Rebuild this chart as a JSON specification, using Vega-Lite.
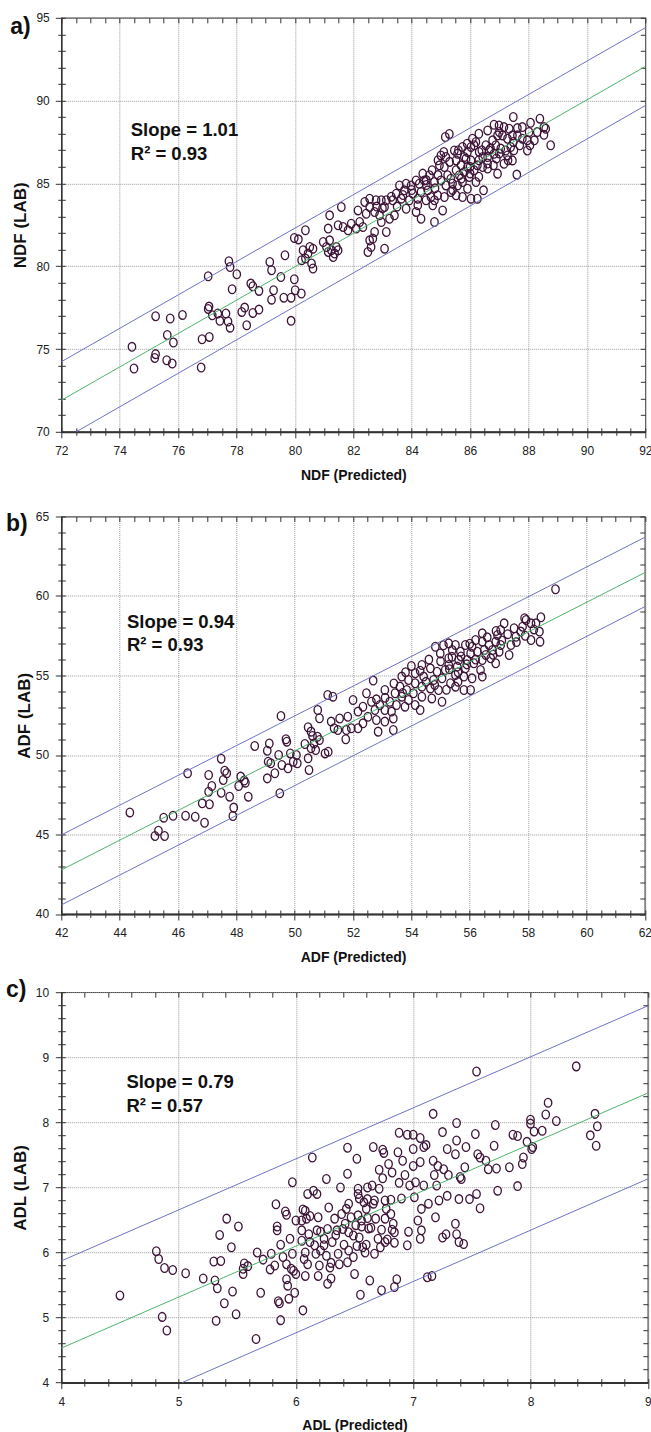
{
  "$schema": "https://vega.github.io/schema/vega-lite/v6.json",
  "background": "white",
  "padding": {"left": 5.3, "top": 10.8, "right": 0, "bottom": 0},
  "columns": 1,
  "spacing": 12.7,
  "config": {
    "view": {"stroke": "#444", "strokeWidth": 1.2},
    "font": "Liberation Sans",
    "axis": {
      "labelFont": "Liberation Sans", "labelFontSize": 12, "labelColor": "#222", "labelFlush": false, "labelOverlap": false,
      "tickColor": "#333", "tickWidth": 1, "domainColor": "#333",
      "gridColor": "#9a9a9a", "gridDash": [1, 1], "gridWidth": 1,
      "titleColor": "#111"
    },
    "axisX": {"titleFont": "Liberation Sans", "titleFontSize": 14, "titleFontWeight": "bold"},
    "axisY": {"titleFont": "Liberation Sans", "titleFontSize": 17, "titleFontWeight": "bold"},
    "title": {"anchor": "start", "frame": "bounds", "font": "Liberation Sans", "fontSize": 23, "fontWeight": "bold", "color": "#111", "baseline": "alphabetic"}
  },
  "datasets": {
    "a_pts": [
      {"p":74.42,"l":75.13},{"p":74.49,"l":73.82},{"p":75.23,"l":76.98},{"p":75.23,"l":74.69},{"p":75.2,"l":74.46},{"p":75.73,"l":76.84},{"p":75.63,"l":75.85},{"p":75.61,"l":74.32},{"p":75.8,"l":74.12},{"p":75.84,"l":75.39},{"p":76.15,"l":77.06},{"p":76.79,"l":73.88},{"p":76.82,"l":75.59},{"p":77.03,"l":79.39},{"p":77.07,"l":75.73},{"p":77.03,"l":77.42},{"p":77.06,"l":77.56},{"p":77.17,"l":77.04},{"p":77.36,"l":77.14},{"p":77.43,"l":76.7},{"p":77.64,"l":77.14},{"p":77.71,"l":76.66},{"p":77.78,"l":76.29},{"p":77.74,"l":80.3},{"p":77.78,"l":79.95},{"p":77.85,"l":78.61},{"p":78.01,"l":79.51},{"p":78.18,"l":77.24},{"p":78.28,"l":77.5},{"p":78.35,"l":76.43},{"p":78.49,"l":78.95},{"p":78.56,"l":78.79},{"p":78.56,"l":77.18},{"p":78.77,"l":78.51},{"p":78.77,"l":77.38},{"p":79.2,"l":77.98},{"p":79.27,"l":78.55},{"p":79.62,"l":78.1},{"p":79.87,"l":78.1},{"p":79.87,"l":76.7},{"p":79.98,"l":79.21},{"p":80.01,"l":78.55},{"p":80.22,"l":78.35},
      {"p":79.14,"l":80.26},{"p":79.2,"l":79.76},{"p":79.66,"l":80.66},{"p":79.52,"l":79.35},{"p":79.98,"l":81.7},{"p":80.12,"l":81.62},{"p":80.36,"l":82.17},{"p":80.28,"l":80.96},{"p":80.36,"l":80.46},{"p":80.23,"l":80.36},{"p":80.51,"l":81.16},{"p":80.62,"l":81.06},{"p":80.57,"l":80.16},{"p":80.62,"l":79.86},{"p":80.45,"l":80.76},{"p":80.97,"l":81.46},{"p":81.08,"l":81.16},{"p":81.19,"l":81.56},{"p":81.25,"l":80.96},{"p":81.14,"l":80.86},{"p":81.36,"l":80.76},{"p":81.31,"l":80.56},{"p":81.48,"l":80.96},{"p":81.42,"l":81.16},{"p":81.19,"l":83.07},{"p":81.59,"l":83.58},{"p":81.65,"l":82.37},{"p":81.82,"l":82.17},{"p":81.93,"l":82.57},{"p":82.22,"l":82.67},{"p":82.1,"l":82.27},{"p":82.33,"l":82.37},{"p":82.16,"l":83.37},{"p":82.44,"l":83.17},{"p":82.56,"l":83.58},{"p":82.73,"l":83.27},{"p":82.9,"l":83.07},{"p":82.56,"l":81.56},{"p":82.67,"l":81.67},{"p":82.5,"l":80.86},{"p":82.61,"l":81.16},{"p":83.07,"l":81.06},{"p":83.13,"l":82.07},{"p":82.73,"l":82.07},{"p":82.96,"l":82.67},{"p":83.24,"l":82.87},{"p":83.41,"l":83.07},{"p":83.07,"l":83.58},{"p":83.81,"l":83.47},{"p":84.15,"l":83.28},{"p":84.32,"l":82.87},{"p":84.78,"l":82.67},{"p":85.06,"l":83.37},{"p":84.72,"l":83.68},{"p":84.21,"l":83.68},{"p":81.48,"l":82.47},{"p":81.14,"l":82.27},
      {"p":87.48,"l":89.01},{"p":86.82,"l":88.54},{"p":86.99,"l":88.5},{"p":87.16,"l":88.4},{"p":87.34,"l":88.3},{"p":87.62,"l":88.34},{"p":87.79,"l":88.4},{"p":88.07,"l":88.66},{"p":88.39,"l":88.91},{"p":88.53,"l":88.4},{"p":88.59,"l":88.3},{"p":88.53,"l":87.94},{"p":88.76,"l":87.3},{"p":88.02,"l":88.1},{"p":87.96,"l":87.6},{"p":88.05,"l":87.3},{"p":87.96,"l":86.99},{"p":87.79,"l":87.7},{"p":87.62,"l":87.9},{"p":87.45,"l":87.9},{"p":87.48,"l":87.5},{"p":87.28,"l":87.7},{"p":87.11,"l":87.9},{"p":86.94,"l":87.9},{"p":86.77,"l":87.6},{"p":86.88,"l":87.3},{"p":87.05,"l":87.1},{"p":87.22,"l":86.99},{"p":87.39,"l":87.2},{"p":87.28,"l":86.69},{"p":87.45,"l":86.39},{"p":87.16,"l":86.19},{"p":86.94,"l":85.59},{"p":87.6,"l":85.53},{"p":86.82,"l":86.79},{"p":86.65,"l":86.99},{"p":86.54,"l":87.3},{"p":86.6,"l":86.59},{"p":86.43,"l":86.59},{"p":86.31,"l":86.9},{"p":86.08,"l":87.7},{"p":86.03,"l":87.2},{"p":86.14,"l":87.3},{"p":85.91,"l":86.9},{"p":85.74,"l":87.2},{"p":85.57,"l":86.79},{"p":85.86,"l":86.49},{"p":86.03,"l":86.39},{"p":86.25,"l":86.09},{"p":86.43,"l":85.99},{"p":86.14,"l":85.79},{"p":85.91,"l":85.99},{"p":85.69,"l":86.09},{"p":85.52,"l":86.39},{"p":85.46,"l":86.99},{"p":85.29,"l":87.99},{"p":85.15,"l":87.8},{"p":85.0,"l":86.69},{"p":85.17,"l":86.59},{"p":84.95,"l":86.09},{"p":85.12,"l":85.99},{"p":85.23,"l":85.49},{"p":85.52,"l":85.79},{"p":85.63,"l":85.49},{"p":85.8,"l":85.69},{"p":85.97,"l":85.39},{"p":85.74,"l":85.08},{"p":85.57,"l":84.88},{"p":85.91,"l":84.68},{"p":86.2,"l":85.08},{"p":86.25,"l":84.08},{"p":86.46,"l":84.58},{"p":86.03,"l":84.08},{"p":85.74,"l":84.18},{"p":85.52,"l":84.28},{"p":85.34,"l":84.48},{"p":85.0,"l":85.18},{"p":84.78,"l":85.08},{"p":84.61,"l":85.49},{"p":84.38,"l":85.59},{"p":84.43,"l":85.18},{"p":84.26,"l":84.98},{"p":84.15,"l":85.18},{"p":83.98,"l":84.88},{"p":83.81,"l":84.98},{"p":83.58,"l":84.88},{"p":83.75,"l":84.58},{"p":84.04,"l":84.38},{"p":84.32,"l":84.48},{"p":84.55,"l":84.58},{"p":84.66,"l":84.18},{"p":84.89,"l":84.28},{"p":85.12,"l":84.18},{"p":84.78,"l":83.98},{"p":84.49,"l":83.98},{"p":84.21,"l":84.08},{"p":83.92,"l":83.98},{"p":83.64,"l":84.08},{"p":83.47,"l":84.38},{"p":83.35,"l":83.98},{"p":83.13,"l":83.98},{"p":82.96,"l":83.98},{"p":82.78,"l":83.98},{"p":82.56,"l":84.08},{"p":82.39,"l":83.88},{"p":85.17,"l":84.88},{"p":85.34,"l":85.28},
      {"p":85.8,"l":86.6},{"p":86.0,"l":86.0},{"p":86.3,"l":86.4},{"p":86.6,"l":86.2},{"p":86.9,"l":86.5},{"p":87.0,"l":86.8},{"p":86.7,"l":87.1},{"p":86.4,"l":87.0},{"p":86.2,"l":87.5},{"p":85.9,"l":87.4},{"p":85.6,"l":87.0},{"p":85.3,"l":86.3},{"p":85.1,"l":86.9},{"p":84.9,"l":86.4},{"p":84.7,"l":85.8},{"p":84.5,"l":85.2},{"p":84.9,"l":85.5},{"p":85.4,"l":85.0},{"p":85.7,"l":85.3},{"p":86.0,"l":85.6},{"p":86.3,"l":85.4},{"p":86.6,"l":85.9},{"p":86.8,"l":86.1},{"p":87.3,"l":86.4},{"p":87.5,"l":87.0},{"p":87.7,"l":87.3},{"p":88.2,"l":87.6},{"p":88.3,"l":88.1},{"p":87.0,"l":88.1},{"p":86.6,"l":88.2},{"p":86.3,"l":88.0},{"p":84.0,"l":84.6},{"p":83.7,"l":84.3},{"p":83.3,"l":84.2},{"p":84.5,"l":84.9},{"p":84.8,"l":84.7},{"p":85.4,"l":84.6},{"p":83.0,"l":83.5},{"p":82.8,"l":83.6},{"p":83.5,"l":83.6}
    ],
    "a_band": [{"band":"upper","x":72,"y":74.23},{"band":"upper","x":92,"y":94.4},{"band":"lower","x":72.51,"y":70},{"band":"lower","x":92,"y":89.7}],
    "a_fit": [{"x":72,"y":71.9},{"x":92,"y":92.06}],
    "a_txt": [{"x":74.38,"y":88.2,"t":"Slope = 1.01"},{"x":74.38,"y":86.75,"t":"R² = 0.93"}],
    "b_pts": [
      {"p":44.35,"l":46.39},{"p":45.21,"l":44.91},{"p":45.33,"l":45.24},{"p":45.54,"l":44.91},{"p":45.51,"l":46.06},{"p":45.83,"l":46.18},{"p":46.26,"l":46.18},{"p":46.33,"l":48.85},{"p":46.59,"l":46.12},{"p":46.83,"l":46.96},{"p":46.91,"l":45.74},{"p":47.05,"l":48.74},{"p":47.05,"l":47.69},{"p":47.08,"l":46.9},{"p":47.16,"l":48.05},{"p":47.48,"l":49.77},{"p":47.48,"l":47.63},{"p":47.55,"l":48.43},{"p":47.6,"l":49.01},{"p":47.67,"l":48.85},{"p":47.77,"l":47.38},{"p":47.88,"l":46.16},{"p":47.91,"l":46.69},{"p":48.08,"l":48.05},{"p":48.15,"l":48.64},{"p":48.27,"l":48.39},{"p":48.31,"l":48.26},{"p":48.41,"l":47.38},{"p":48.63,"l":50.57},{"p":49.06,"l":50.27},{"p":49.06,"l":48.53},{"p":49.13,"l":50.73},{"p":49.09,"l":49.58},{"p":49.18,"l":49.48},{"p":49.32,"l":48.85},{"p":49.45,"l":50.0},{"p":49.49,"l":47.59},{"p":49.53,"l":52.45},{"p":49.56,"l":49.37},{"p":49.7,"l":50.99},{"p":49.73,"l":50.84},{"p":49.77,"l":49.16},{"p":49.85,"l":50.1},{"p":49.95,"l":49.58},{"p":50.06,"l":50.0},{"p":50.09,"l":49.48},{"p":50.35,"l":50.69},{"p":50.46,"l":49.79},{"p":50.49,"l":49.06},{"p":50.56,"l":50.42},{"p":50.66,"l":50.73},{"p":50.72,"l":50.31},{"p":50.85,"l":50.94},{"p":51.04,"l":50.1},{"p":51.15,"l":50.21},{"p":51.75,"l":50.99},{"p":50.46,"l":51.74},{"p":50.78,"l":51.15},{"p":51.35,"l":51.68},{"p":50.61,"l":51.2},
      {"p":54.82,"l":56.81},{"p":54.99,"l":56.39},{"p":55.28,"l":56.08},{"p":54.36,"l":55.66},{"p":54.65,"l":55.45},{"p":54.88,"l":55.24},{"p":55.16,"l":55.35},{"p":54.13,"l":55.14},{"p":54.42,"l":54.93},{"p":54.76,"l":54.72},{"p":55.05,"l":54.82},{"p":53.67,"l":54.93},{"p":53.9,"l":54.72},{"p":54.13,"l":54.51},{"p":54.36,"l":54.3},{"p":54.65,"l":54.19},{"p":54.93,"l":54.09},{"p":53.61,"l":54.3},{"p":53.84,"l":54.09},{"p":54.07,"l":53.88},{"p":54.36,"l":53.67},{"p":54.7,"l":53.56},{"p":55.05,"l":53.35},{"p":53.44,"l":53.88},{"p":53.67,"l":53.67},{"p":53.9,"l":53.46},{"p":54.13,"l":53.14},{"p":54.3,"l":52.83},{"p":53.26,"l":53.35},{"p":53.49,"l":53.14},{"p":53.78,"l":53.04},{"p":52.92,"l":53.14},{"p":53.09,"l":52.83},{"p":52.75,"l":52.83},{"p":53.32,"l":52.73},{"p":52.63,"l":53.35},{"p":52.46,"l":53.88},{"p":52.34,"l":53.04},{"p":52.17,"l":52.73},{"p":52.0,"l":53.46},{"p":52.51,"l":52.41},{"p":52.34,"l":51.99},{"p":52.17,"l":51.68},{"p":52.8,"l":52.2},{"p":53.09,"l":52.1},{"p":53.38,"l":52.3},{"p":51.82,"l":52.41},{"p":51.54,"l":52.3},{"p":51.77,"l":51.57},{"p":51.48,"l":51.57},{"p":51.94,"l":51.68},{"p":51.25,"l":52.1},{"p":51.13,"l":53.77},{"p":51.31,"l":53.67},{"p":50.79,"l":52.83},{"p":50.85,"l":52.31},{"p":50.56,"l":51.47},{"p":52.69,"l":54.68},{"p":53.09,"l":54.09},{"p":53.38,"l":51.57},{"p":52.86,"l":51.47},
      {"p":58.94,"l":60.42},{"p":58.44,"l":58.66},{"p":58.27,"l":58.28},{"p":58.39,"l":57.76},{"p":58.41,"l":57.13},{"p":58.1,"l":58.28},{"p":57.93,"l":58.49},{"p":57.81,"l":58.07},{"p":58.1,"l":57.23},{"p":57.75,"l":57.76},{"p":57.58,"l":57.44},{"p":57.52,"l":57.97},{"p":57.41,"l":56.92},{"p":57.35,"l":56.29},{"p":57.18,"l":58.28},{"p":57.06,"l":57.86},{"p":56.95,"l":57.55},{"p":56.89,"l":57.13},{"p":57.06,"l":56.92},{"p":57.01,"l":56.5},{"p":56.78,"l":56.6},{"p":56.66,"l":56.92},{"p":56.43,"l":57.65},{"p":56.43,"l":57.13},{"p":56.55,"l":56.29},{"p":56.72,"l":56.08},{"p":56.89,"l":55.77},{"p":56.43,"l":55.97},{"p":56.2,"l":57.23},{"p":56.08,"l":56.81},{"p":56.26,"l":56.5},{"p":56.03,"l":56.39},{"p":55.85,"l":56.92},{"p":55.68,"l":56.5},{"p":55.51,"l":56.92},{"p":55.28,"l":57.02},{"p":55.39,"l":56.18},{"p":55.62,"l":55.97},{"p":55.91,"l":55.97},{"p":56.14,"l":55.77},{"p":55.85,"l":55.45},{"p":55.57,"l":55.56},{"p":55.28,"l":55.66},{"p":55.34,"l":54.51},{"p":55.51,"l":55.03},{"p":55.8,"l":54.93},{"p":56.08,"l":54.82},{"p":56.43,"l":54.93},{"p":56.37,"l":55.35},{"p":55.51,"l":54.3},{"p":55.8,"l":54.09},{"p":56.03,"l":54.09},{"p":57.88,"l":58.6},
      {"p":55.0,"l":55.9},{"p":55.3,"l":55.4},{"p":55.6,"l":55.2},{"p":55.9,"l":55.7},{"p":56.2,"l":56.0},{"p":56.5,"l":56.6},{"p":56.8,"l":56.3},{"p":57.1,"l":57.2},{"p":57.3,"l":57.6},{"p":57.6,"l":57.1},{"p":57.9,"l":57.5},{"p":58.2,"l":57.9},{"p":56.6,"l":57.4},{"p":56.9,"l":57.8},{"p":56.0,"l":57.0},{"p":55.7,"l":56.2},{"p":55.4,"l":56.6},{"p":55.1,"l":56.9},{"p":54.6,"l":56.0},{"p":54.3,"l":55.3},{"p":54.0,"l":55.6},{"p":53.8,"l":55.2},{"p":54.5,"l":54.6},{"p":54.8,"l":54.4},{"p":55.2,"l":54.1},{"p":55.6,"l":54.6},{"p":53.4,"l":54.5},{"p":53.1,"l":53.6},{"p":53.7,"l":53.9},{"p":52.8,"l":53.5}
    ],
    "b_band": [{"band":"upper","x":42,"y":44.97},{"band":"upper","x":62,"y":63.69},{"band":"lower","x":42,"y":40.57},{"band":"lower","x":62,"y":59.33}],
    "b_fit": [{"x":42,"y":42.77},{"x":62,"y":61.47}],
    "b_txt": [{"x":44.25,"y":58.38,"t":"Slope = 0.94"},{"x":44.25,"y":56.92,"t":"R² = 0.93"}],
    "c_pts": [
      {"p":4.5,"l":5.34},{"p":4.81,"l":6.02},{"p":4.83,"l":5.9},{"p":4.88,"l":5.76},{"p":4.95,"l":5.73},{"p":4.86,"l":5.01},{"p":4.9,"l":4.8},{"p":5.06,"l":5.68},{"p":5.21,"l":5.6},{"p":5.3,"l":5.86},{"p":5.31,"l":5.57},{"p":5.33,"l":5.45},{"p":5.32,"l":4.95},{"p":5.35,"l":6.27},{"p":5.36,"l":5.87},{"p":5.39,"l":5.22},{"p":5.41,"l":6.52},{"p":5.45,"l":6.08},{"p":5.46,"l":5.4},{"p":5.49,"l":5.05},{"p":5.51,"l":6.4},{"p":5.56,"l":5.83},{"p":5.55,"l":5.75},{"p":5.55,"l":5.67},{"p":5.59,"l":5.79},{"p":5.66,"l":4.67},{"p":5.67,"l":6.0},{"p":5.7,"l":5.38},{"p":5.72,"l":5.89},{"p":5.78,"l":5.74},{"p":5.79,"l":5.98},{"p":5.82,"l":5.8},{"p":5.83,"l":6.74},{"p":5.84,"l":6.34},{"p":5.84,"l":6.4},{"p":5.85,"l":5.25},{"p":5.86,"l":5.22},{"p":5.87,"l":4.96},{"p":5.87,"l":6.12},{"p":5.89,"l":5.93},{"p":5.91,"l":6.63},{"p":5.92,"l":6.58},{"p":5.92,"l":5.82},{"p":5.92,"l":5.59},{"p":5.93,"l":5.49},{"p":5.94,"l":5.29},{"p":5.95,"l":6.21},{"p":5.96,"l":5.75},{"p":5.97,"l":7.08},{"p":5.98,"l":5.72},{"p":5.99,"l":5.38},{"p":6.0,"l":6.49},{"p":6.0,"l":5.67},{"p":6.06,"l":5.11},{"p":6.06,"l":6.66},{"p":6.07,"l":5.9},{"p":6.08,"l":5.64},{"p":6.08,"l":6.64},{"p":6.09,"l":6.52},{"p":6.1,"l":6.9},{"p":6.11,"l":6.28},{"p":6.12,"l":6.16},{"p":6.14,"l":7.46},{"p":6.15,"l":6.95},{"p":6.16,"l":6.11},{"p":6.18,"l":6.9},{"p":6.19,"l":6.54},{"p":6.19,"l":5.64},{"p":6.2,"l":5.8},{"p":6.21,"l":6.32},{"p":6.21,"l":6.03},{"p":6.24,"l":6.21},{"p":6.26,"l":7.13},{"p":6.27,"l":5.52},{"p":6.28,"l":6.69},{"p":6.29,"l":5.77},{"p":6.3,"l":5.84},{"p":6.3,"l":5.6},{"p":6.31,"l":6.16},{"p":6.33,"l":6.52},{"p":6.34,"l":6.27},{"p":6.36,"l":5.98},{"p":6.37,"l":5.82},{"p":6.38,"l":7.0},{"p":6.39,"l":6.59},{"p":6.4,"l":6.36},{"p":6.41,"l":6.12},{"p":6.42,"l":6.44},{"p":6.43,"l":6.67},{"p":6.44,"l":7.61},{"p":6.44,"l":5.85},{"p":6.44,"l":7.21},{"p":6.45,"l":6.03},{"p":6.45,"l":6.31},{"p":6.47,"l":6.54},{"p":6.49,"l":5.93},{"p":6.5,"l":5.67},{"p":6.51,"l":6.42},{"p":6.52,"l":7.44},{"p":6.53,"l":6.98},{"p":6.53,"l":6.9},{"p":6.53,"l":6.57},{"p":6.54,"l":6.23},{"p":6.55,"l":5.35},{"p":6.56,"l":6.49},{"p":6.57,"l":6.08},{"p":6.58,"l":6.77},{"p":6.59,"l":6.0},{"p":6.6,"l":6.67},{"p":6.61,"l":7.0},{"p":6.62,"l":6.37},{"p":6.63,"l":5.57},{"p":6.64,"l":6.38},{"p":6.65,"l":7.03},{"p":6.66,"l":7.62},{"p":6.67,"l":6.8},{"p":6.67,"l":5.98},{"p":6.68,"l":6.52},{"p":6.7,"l":6.21},{"p":6.71,"l":7.27},{"p":6.72,"l":6.08},{"p":6.73,"l":5.42},{"p":6.73,"l":6.35},{"p":6.74,"l":7.58},{"p":6.74,"l":7.14},{"p":6.76,"l":6.8},{"p":6.77,"l":6.67},{"p":6.78,"l":6.2},{"p":6.79,"l":7.36},{"p":6.81,"l":6.81},{"p":6.82,"l":7.23},{"p":6.83,"l":6.44},{"p":6.84,"l":6.31},{"p":6.84,"l":6.15},{"p":6.84,"l":5.47},{"p":6.86,"l":5.59},{"p":6.87,"l":7.54},{"p":6.88,"l":7.07},{"p":6.9,"l":6.83},{"p":6.91,"l":7.41},{"p":6.93,"l":7.19},{"p":6.95,"l":6.11},{"p":6.96,"l":6.32},{"p":6.97,"l":7.03},{"p":7.0,"l":7.33},{"p":7.0,"l":7.59},{"p":7.01,"l":6.85},{"p":7.02,"l":7.08},{"p":7.04,"l":6.49},{"p":7.06,"l":7.39},{"p":7.06,"l":6.21},{"p":7.07,"l":6.67},{"p":7.07,"l":6.34},{"p":7.09,"l":7.03},{"p":7.09,"l":7.62},{"p":7.11,"l":7.65},{"p":7.12,"l":5.62},{"p":7.13,"l":6.75},{"p":7.16,"l":5.64},{"p":7.17,"l":7.41},{"p":7.18,"l":7.19},{"p":7.19,"l":6.54},{"p":7.2,"l":7.03},{"p":7.21,"l":7.33},{"p":7.22,"l":6.8},{"p":7.25,"l":6.23},{"p":7.26,"l":7.28},{"p":7.28,"l":6.28},{"p":7.29,"l":7.59},{"p":7.29,"l":6.87},{"p":7.3,"l":7.19},{"p":7.36,"l":7.51},{"p":7.36,"l":6.44},{"p":7.37,"l":6.28},{"p":7.39,"l":6.16},{"p":7.39,"l":6.82},{"p":7.4,"l":7.16},{"p":7.41,"l":7.13},{"p":7.43,"l":6.13},{"p":7.44,"l":7.31},{"p":7.45,"l":7.62},{"p":7.48,"l":6.82},{"p":7.55,"l":7.51},{"p":7.54,"l":6.9},{"p":7.57,"l":7.46},{"p":7.57,"l":6.68},{"p":7.62,"l":7.41},{"p":7.64,"l":7.28},{"p":7.69,"l":7.64},{"p":7.71,"l":7.29},{"p":7.72,"l":6.95},{"p":7.82,"l":7.31},{"p":7.89,"l":7.02},{"p":7.93,"l":7.36},{"p":7.94,"l":7.46},{"p":8.01,"l":7.59},{"p":8.02,"l":7.62},{"p":8.56,"l":7.64},
      {"p":7.54,"l":8.78},{"p":8.39,"l":8.86},{"p":7.17,"l":8.13},{"p":7.37,"l":7.99},{"p":7.7,"l":7.96},{"p":8.0,"l":8.04},{"p":8.0,"l":7.98},{"p":8.15,"l":8.3},{"p":8.13,"l":8.12},{"p":8.22,"l":8.02},{"p":8.55,"l":8.13},{"p":8.57,"l":7.94},{"p":8.51,"l":7.8},{"p":6.88,"l":7.84},{"p":6.95,"l":7.81},{"p":7.0,"l":7.81},{"p":7.25,"l":7.85},{"p":7.53,"l":7.82},{"p":7.85,"l":7.81},{"p":7.89,"l":7.79},{"p":8.03,"l":7.86},{"p":8.1,"l":7.87},{"p":7.06,"l":7.76},
      {"p":7.37,"l":7.72},{"p":6.75,"l":7.53},{"p":7.97,"l":7.7},
      {"p":6.71,"l":6.98},{"p":6.54,"l":6.83},{"p":6.61,"l":6.82},{"p":6.66,"l":6.75},{"p":6.45,"l":6.75},{"p":6.61,"l":6.53},{"p":6.76,"l":6.52},{"p":6.81,"l":6.59},{"p":6.12,"l":6.56},{"p":6.05,"l":6.49},{"p":6.56,"l":6.4},{"p":6.82,"l":6.35},{"p":6.05,"l":6.34},{"p":6.18,"l":6.34},{"p":6.27,"l":6.36},{"p":6.35,"l":6.34},{"p":6.49,"l":6.26},{"p":6.76,"l":6.16},{"p":6.05,"l":6.18},{"p":6.24,"l":6.11},{"p":6.52,"l":6.1},{"p":6.6,"l":6.12},{"p":5.97,"l":5.98},{"p":6.08,"l":6.0},{"p":6.17,"l":5.98},{"p":6.26,"l":5.95},{"p":6.1,"l":5.82}
    ],
    "c_band": [{"band":"upper","x":4,"y":5.87},{"band":"upper","x":9,"y":9.79},{"band":"lower","x":5.03,"y":4},{"band":"lower","x":9,"y":7.13}],
    "c_fit": [{"x":4,"y":4.53},{"x":9,"y":8.45}],
    "c_txt": [{"x":4.555,"y":8.617,"t":"Slope = 0.79"},{"x":4.555,"y":8.257,"t":"R² = 0.57"}]
  },
  "concat": [
    {
      "width": 584, "height": 414,
      "title": {"text": "a)", "dx": -1.6, "offset": -27.6},
      "layer": [
        {
          "data": {"name": "a_pts"},
          "mark": {"type": "point", "shape": "M-0.85,0A0.85,1,0,1,1,0.85,0A0.85,1,0,1,1,-0.85,0Z", "size": 76, "filled": false, "color": "#3e1438", "strokeWidth": 1.3, "opacity": 1},
          "encoding": {
            "x": {"field": "p", "type": "quantitative", "scale": {"domain": [72, 92], "nice": false, "zero": false},
                  "axis": {"orient": "bottom", "values": [72,72.5,73,73.5,74,74.5,75,75.5,76,76.5,77,77.5,78,78.5,79,79.5,80,80.5,81,81.5,82,82.5,83,83.5,84,84.5,85,85.5,86,86.5,87,87.5,88,88.5,89,89.5,90,90.5,91,91.5,92],
                           "labelExpr": "datum.value % 2 === 0 ? datum.value + '' : ''",
                           "gridOpacity": {"condition": {"test": "datum.value % 2 === 0", "value": 1}, "value": 0},
                           "tickSize": {"condition": {"test": "datum.value % 2 === 0", "value": 6}, "value": 3.5},
                           "title": ["NDF (Predicted)", ""], "titleLineHeight": 13, "grid": true, "labelPadding": 8, "titlePadding": 11.8, "domainWidth": 2}},
            "y": {"field": "l", "type": "quantitative", "scale": {"domain": [70, 95], "nice": false, "zero": false},
                  "axis": {"orient": "left", "values": [70,71,72,73,74,75,76,77,78,79,80,81,82,83,84,85,86,87,88,89,90,91,92,93,94,95],
                           "labelExpr": "datum.value % 5 === 0 ? datum.value + '' : ''",
                           "gridOpacity": {"condition": {"test": "datum.value % 5 === 0", "value": 1}, "value": 0},
                           "tickSize": {"condition": {"test": "datum.value % 5 === 0", "value": 6}, "value": 3.5},
                           "title": "NDF (LAB)", "grid": true, "labelPadding": 6, "titlePadding": 6.2, "domainWidth": 1.5}}
          }
        },
        {
          "data": {"name": "a_band"},
          "mark": {"type": "line", "color": "#6d73c6", "strokeWidth": 1},
          "encoding": {
            "x": {"field": "x", "type": "quantitative", "axis": {"orient": "bottom", "values": [72,72.5,73,73.5,74,74.5,75,75.5,76,76.5,77,77.5,78,78.5,79,79.5,80,80.5,81,81.5,82,82.5,83,83.5,84,84.5,85,85.5,86,86.5,87,87.5,88,88.5,89,89.5,90,90.5,91,91.5,92], "labels": false, "grid": false, "domain": false, "tickSize": -4, "title": null}},
            "y": {"field": "y", "type": "quantitative", "axis": {"orient": "left", "values": [70,71,72,73,74,75,76,77,78,79,80,81,82,83,84,85,86,87,88,89,90,91,92,93,94,95], "labels": false, "grid": false, "domain": false, "tickSize": -4, "title": null}},
            "detail": {"field": "band"}
          }
        },
        {
          "data": {"name": "a_fit"},
          "mark": {"type": "line", "color": "#4cb56c", "strokeWidth": 1},
          "encoding": {
            "x": {"field": "x", "type": "quantitative", "axis": {"orient": "top", "values": [72,72.5,73,73.5,74,74.5,75,75.5,76,76.5,77,77.5,78,78.5,79,79.5,80,80.5,81,81.5,82,82.5,83,83.5,84,84.5,85,85.5,86,86.5,87,87.5,88,88.5,89,89.5,90,90.5,91,91.5,92], "labels": false, "grid": false, "domain": false, "tickSize": -5, "title": null}},
            "y": {"field": "y", "type": "quantitative", "axis": {"orient": "right", "values": [70,71,72,73,74,75,76,77,78,79,80,81,82,83,84,85,86,87,88,89,90,91,92,93,94,95], "labels": false, "grid": false, "domain": false, "tickSize": -5, "title": null}}
          }
        },
        {
          "data": {"name": "a_txt"},
          "mark": {"type": "text", "align": "left", "baseline": "middle", "font": "Liberation Sans", "fontSize": 18.5, "fontWeight": "bold", "color": "#111"},
          "encoding": {
            "x": {"field": "x", "type": "quantitative", "axis": null},
            "y": {"field": "y", "type": "quantitative", "axis": null},
            "text": {"field": "t"}
          }
        }
      ],
      "resolve": {"axis": {"x": "independent", "y": "independent"}}
    },
    {
      "width": 583.5, "height": 397.5,
      "title": {"text": "b)", "dx": -9.3, "offset": -25.1},
      "layer": [
        {
          "data": {"name": "b_pts"},
          "mark": {"type": "point", "shape": "M-0.85,0A0.85,1,0,1,1,0.85,0A0.85,1,0,1,1,-0.85,0Z", "size": 76, "filled": false, "color": "#3e1438", "strokeWidth": 1.3, "opacity": 1},
          "encoding": {
            "x": {"field": "p", "type": "quantitative", "scale": {"domain": [42, 62], "nice": false, "zero": false},
                  "axis": {"orient": "bottom", "values": [42,42.5,43,43.5,44,44.5,45,45.5,46,46.5,47,47.5,48,48.5,49,49.5,50,50.5,51,51.5,52,52.5,53,53.5,54,54.5,55,55.5,56,56.5,57,57.5,58,58.5,59,59.5,60,60.5,61,61.5,62],
                           "labelExpr": "datum.value % 2 === 0 ? datum.value + '' : ''",
                           "gridOpacity": {"condition": {"test": "datum.value % 2 === 0", "value": 1}, "value": 0},
                           "tickSize": {"condition": {"test": "datum.value % 2 === 0", "value": 6}, "value": 3.5},
                           "title": "ADF (Predicted)", "grid": true, "labelPadding": 8, "titlePadding": 11.7, "domainWidth": 2}},
            "y": {"field": "l", "type": "quantitative", "scale": {"domain": [40, 65], "nice": false, "zero": false},
                  "axis": {"orient": "left", "values": [40,41,42,43,44,45,46,47,48,49,50,51,52,53,54,55,56,57,58,59,60,61,62,63,64,65],
                           "labelExpr": "datum.value % 5 === 0 ? datum.value + '' : ''",
                           "gridOpacity": {"condition": {"test": "datum.value % 5 === 0", "value": 1}, "value": 0},
                           "tickSize": {"condition": {"test": "datum.value % 5 === 0", "value": 6}, "value": 3.5},
                           "title": "ADF (LAB)", "grid": true, "labelPadding": 6.6, "titlePadding": 2, "domainWidth": 1.5}}
          }
        },
        {
          "data": {"name": "b_band"},
          "mark": {"type": "line", "color": "#6d73c6", "strokeWidth": 1},
          "encoding": {
            "x": {"field": "x", "type": "quantitative", "axis": {"orient": "bottom", "values": [42,42.5,43,43.5,44,44.5,45,45.5,46,46.5,47,47.5,48,48.5,49,49.5,50,50.5,51,51.5,52,52.5,53,53.5,54,54.5,55,55.5,56,56.5,57,57.5,58,58.5,59,59.5,60,60.5,61,61.5,62], "labels": false, "grid": false, "domain": false, "tickSize": -4, "title": null}},
            "y": {"field": "y", "type": "quantitative", "axis": {"orient": "left", "values": [40,41,42,43,44,45,46,47,48,49,50,51,52,53,54,55,56,57,58,59,60,61,62,63,64,65], "labels": false, "grid": false, "domain": false, "tickSize": -4, "title": null}},
            "detail": {"field": "band"}
          }
        },
        {
          "data": {"name": "b_fit"},
          "mark": {"type": "line", "color": "#4cb56c", "strokeWidth": 1},
          "encoding": {
            "x": {"field": "x", "type": "quantitative", "axis": {"orient": "top", "values": [42,42.5,43,43.5,44,44.5,45,45.5,46,46.5,47,47.5,48,48.5,49,49.5,50,50.5,51,51.5,52,52.5,53,53.5,54,54.5,55,55.5,56,56.5,57,57.5,58,58.5,59,59.5,60,60.5,61,61.5,62], "labels": false, "grid": false, "domain": false, "tickSize": -5, "title": null}},
            "y": {"field": "y", "type": "quantitative", "axis": {"orient": "right", "values": [40,41,42,43,44,45,46,47,48,49,50,51,52,53,54,55,56,57,58,59,60,61,62,63,64,65], "labels": false, "grid": false, "domain": false, "tickSize": -5, "title": null}}
          }
        },
        {
          "data": {"name": "b_txt"},
          "mark": {"type": "text", "align": "left", "baseline": "middle", "font": "Liberation Sans", "fontSize": 18.5, "fontWeight": "bold", "color": "#111"},
          "encoding": {
            "x": {"field": "x", "type": "quantitative", "axis": null},
            "y": {"field": "y", "type": "quantitative", "axis": null},
            "text": {"field": "t"}
          }
        }
      ],
      "resolve": {"axis": {"x": "independent", "y": "independent"}}
    },
    {
      "width": 586.5, "height": 390.4,
      "title": {"text": "c)", "dx": -5.9, "offset": -15.8},
      "layer": [
        {
          "data": {"name": "c_pts"},
          "mark": {"type": "point", "shape": "M-0.85,0A0.85,1,0,1,1,0.85,0A0.85,1,0,1,1,-0.85,0Z", "size": 76, "filled": false, "color": "#3e1438", "strokeWidth": 1.3, "opacity": 1},
          "encoding": {
            "x": {"field": "p", "type": "quantitative", "scale": {"domain": [4, 9], "nice": false, "zero": false},
                  "axis": {"orient": "bottom", "values": [4,4.2,4.4,4.6,4.8,5,5.2,5.4,5.6,5.8,6,6.2,6.4,6.6,6.8,7,7.2,7.4,7.6,7.8,8,8.2,8.4,8.6,8.8,9],
                           "labelExpr": "abs(datum.value - round(datum.value)) < 0.01 ? round(datum.value) + '' : ''",
                           "gridOpacity": {"condition": {"test": "abs(datum.value - round(datum.value)) < 0.01", "value": 1}, "value": 0},
                           "tickSize": {"condition": {"test": "abs(datum.value - round(datum.value)) < 0.01", "value": 6}, "value": 3.5},
                           "title": "ADL (Predicted)", "grid": true, "labelPadding": 8, "titlePadding": 11, "domainWidth": 2}},
            "y": {"field": "l", "type": "quantitative", "scale": {"domain": [4, 10], "nice": false, "zero": false},
                  "axis": {"orient": "left", "values": [4,4.2,4.4,4.6,4.8,5,5.2,5.4,5.6,5.8,6,6.2,6.4,6.6,6.8,7,7.2,7.4,7.6,7.8,8,8.2,8.4,8.6,8.8,9,9.2,9.4,9.6,9.8,10],
                           "labelExpr": "abs(datum.value - round(datum.value)) < 0.01 ? round(datum.value) + '' : ''",
                           "gridOpacity": {"condition": {"test": "abs(datum.value - round(datum.value)) < 0.01", "value": 1}, "value": 0},
                           "tickSize": {"condition": {"test": "abs(datum.value - round(datum.value)) < 0.01", "value": 6}, "value": 3.5},
                           "title": "ADL (LAB)", "grid": true, "labelPadding": 6.6, "titlePadding": 5.4, "domainWidth": 1.5}}
          }
        },
        {
          "data": {"name": "c_band"},
          "mark": {"type": "line", "color": "#6d73c6", "strokeWidth": 1},
          "encoding": {
            "x": {"field": "x", "type": "quantitative", "axis": {"orient": "bottom", "values": [4,4.2,4.4,4.6,4.8,5,5.2,5.4,5.6,5.8,6,6.2,6.4,6.6,6.8,7,7.2,7.4,7.6,7.8,8,8.2,8.4,8.6,8.8,9], "labels": false, "grid": false, "domain": false, "tickSize": -4, "title": null}},
            "y": {"field": "y", "type": "quantitative", "axis": {"orient": "left", "values": [4,4.2,4.4,4.6,4.8,5,5.2,5.4,5.6,5.8,6,6.2,6.4,6.6,6.8,7,7.2,7.4,7.6,7.8,8,8.2,8.4,8.6,8.8,9,9.2,9.4,9.6,9.8,10], "labels": false, "grid": false, "domain": false, "tickSize": -4, "title": null}},
            "detail": {"field": "band"}
          }
        },
        {
          "data": {"name": "c_fit"},
          "mark": {"type": "line", "color": "#4cb56c", "strokeWidth": 1},
          "encoding": {
            "x": {"field": "x", "type": "quantitative", "axis": {"orient": "top", "values": [4,4.2,4.4,4.6,4.8,5,5.2,5.4,5.6,5.8,6,6.2,6.4,6.6,6.8,7,7.2,7.4,7.6,7.8,8,8.2,8.4,8.6,8.8,9], "labels": false, "grid": false, "domain": false, "tickSize": -5, "title": null}},
            "y": {"field": "y", "type": "quantitative", "axis": {"orient": "right", "values": [4,4.2,4.4,4.6,4.8,5,5.2,5.4,5.6,5.8,6,6.2,6.4,6.6,6.8,7,7.2,7.4,7.6,7.8,8,8.2,8.4,8.6,8.8,9,9.2,9.4,9.6,9.8,10], "labels": false, "grid": false, "domain": false, "tickSize": -5, "title": null}}
          }
        },
        {
          "data": {"name": "c_txt"},
          "mark": {"type": "text", "align": "left", "baseline": "middle", "font": "Liberation Sans", "fontSize": 18.5, "fontWeight": "bold", "color": "#111"},
          "encoding": {
            "x": {"field": "x", "type": "quantitative", "axis": null},
            "y": {"field": "y", "type": "quantitative", "axis": null},
            "text": {"field": "t"}
          }
        }
      ],
      "resolve": {"axis": {"x": "independent", "y": "independent"}}
    }
  ]
}
